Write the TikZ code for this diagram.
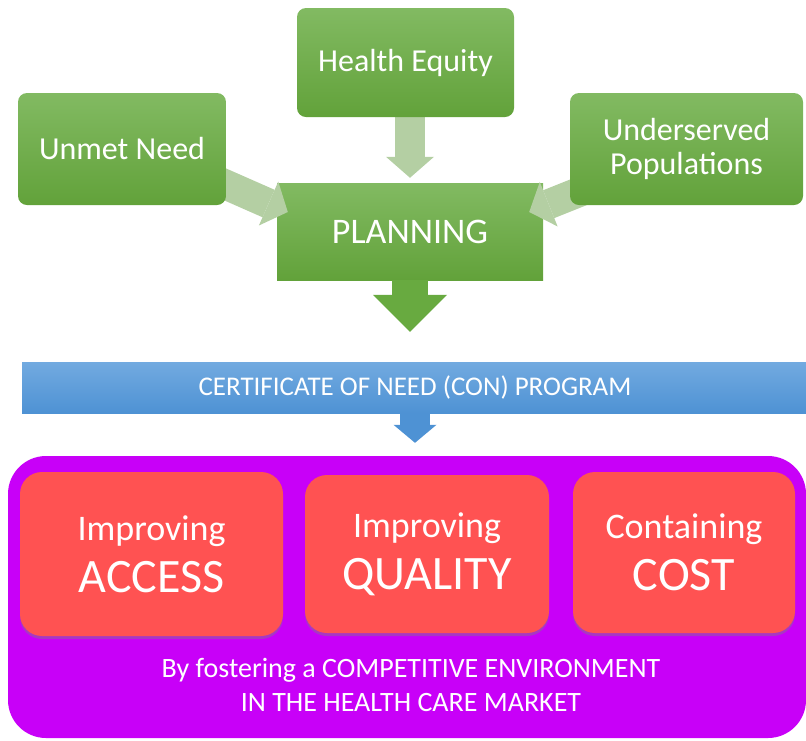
\documentclass[tikz,border=0pt]{standalone}
\usepackage{fontspec}
\setmainfont{Carlito}
\usepackage{tikz}
\usetikzlibrary{calc, positioning, shadows, arrows.meta}

\definecolor{GreenTop}{RGB}{130,186,98}
\definecolor{GreenBot}{RGB}{98,162,58}
\definecolor{SageArrow}{RGB}{180,207,163}
\definecolor{PlanArrow}{RGB}{104,170,64}
\definecolor{BlueTop}{RGB}{114,170,224}
\definecolor{BlueBot}{RGB}{78,146,212}
\definecolor{Violet}{RGB}{200,0,248}
\definecolor{Coral}{RGB}{255,82,82}

\pgfdeclarelayer{back}
\pgfdeclarelayer{mid}
\pgfsetlayers{back,mid,main}

\tikzset{
  greenbox/.style={rounded corners=9pt, top color=GreenTop, bottom color=GreenBot,
    text=white, align=center, inner sep=0pt, font=\fontsize{32}{34}\selectfont},
  planbox/.style={greenbox, rounded corners=0pt, font=\fontsize{36}{40}\selectfont},
  conbar/.style={top color=BlueTop, bottom color=BlueBot, text=white, inner sep=0pt,
    font=\fontsize{27}{30}\selectfont},
  panel/.style={fill=Violet, rounded corners=38pt, inner sep=0pt},
  redbox/.style={fill=Coral, rounded corners=22pt, text=white, align=center, inner sep=0pt,
    drop shadow={shadow xshift=0pt, shadow yshift=-3pt, opacity=.45},
    font=\fontsize{36}{52}\selectfont},
  sagearrow/.style={draw=SageArrow, line width=30pt,
    -{Triangle[length=21pt, width=48pt, line width=0pt]}},
  planarrow/.style={draw=PlanArrow, line width=36pt,
    -{Triangle[length=37pt, width=74pt, line width=0pt]}},
  bluearrow/.style={draw=BlueBot, line width=30pt,
    -{Triangle[length=18pt, width=43pt, line width=0pt]}},
}

\begin{document}
\begin{tikzpicture}[x=1pt, y=-1pt]
  \useasboundingbox (0,0) rectangle (806,740);

  \begin{pgfonlayer}{back}
    \node[planbox, minimum width=266pt, minimum height=97pt] (planning) at (410,231.5) {PLANNING};
  \end{pgfonlayer}

  \node[greenbox, minimum width=208pt, minimum height=112pt] (unmet) at (122,149) {Unmet Need};
  \node[greenbox, minimum width=217pt, minimum height=109pt] (equity) at (405.5,62.5) {Health Equity};
  \node[greenbox, minimum width=233pt, minimum height=112pt] (underserved) at (686.5,149) {Underserved\\Populations};

  % inputs into planning
  \begin{pgfonlayer}{mid}
    \draw[sagearrow, shorten >=5pt] (planning.north |- equity.south) -- (planning.north);
    \draw[sagearrow] ($(unmet.center)+(0,-10)$) -- ($(planning.west)+(11,-19.5)$);
    \draw[sagearrow] (underserved.center) -- ($(planning.east)+(-14,-19.5)$);
  \end{pgfonlayer}

  \node[conbar, minimum width=786pt, minimum height=51pt] (con) at (415,387.5) {CERTIFICATE OF NEED (CON) PROGRAM};
  \draw[planarrow, shorten >=30pt] (planning.south) -- (planning.south |- con.north);

  \node[panel, minimum width=798pt, minimum height=282pt] (market) at (407,597) {};
  \draw[bluearrow, shorten >=13pt] (con.south) -- (con.south |- market.north);

  \node[redbox, minimum width=263pt, minimum height=164pt] (access) at (151.5,554)
    {Improving\\{\fontsize{48}{52}\selectfont ACCESS}};
  \node[redbox, minimum width=244pt, minimum height=158pt] (quality) at (427,554)
    {Improving\\{\fontsize{48}{52}\selectfont QUALITY}};
  \node[redbox, minimum width=222pt, minimum height=161pt] (cost) at (684,552.5)
    {Containing\\{\fontsize{48}{52}\selectfont COST}};

  \node[text=white, align=center, font=\fontsize{28}{34}\selectfont] (fostering) at (411,685)
    {By fostering a COMPETITIVE ENVIRONMENT\\IN THE HEALTH CARE MARKET};
\end{tikzpicture}
\end{document}
